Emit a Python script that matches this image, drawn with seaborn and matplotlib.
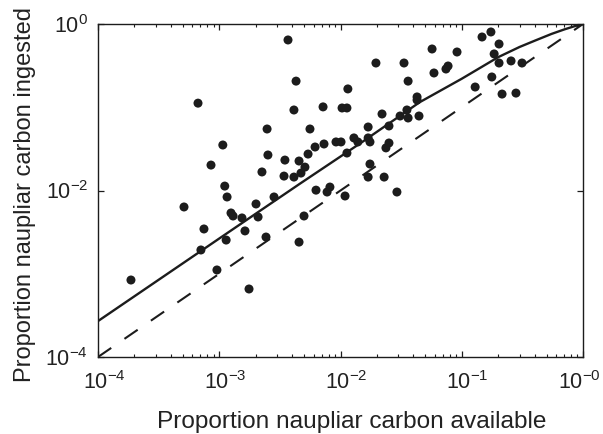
import matplotlib
matplotlib.use("Agg")
import matplotlib.pyplot as plt
import matplotlib.transforms as mtransforms
import seaborn as sns
import pandas as pd
from matplotlib.ticker import LogLocator, NullLocator, FixedLocator, FixedFormatter

# ---- data ----
avail = [3.69e-3, 4.30e-3, 6.68e-4, 4.13e-3, 7.18e-3, 1.03e-2, 1.13e-2, 1.15e-2,
         2.48e-3, 5.60e-3, 1.07e-3, 2.52e-3, 8.55e-4, 3.48e-3, 4.55e-3, 5.40e-3,
         6.17e-3, 7.31e-3, 9.18e-3, 1.01e-2, 1.13e-2, 2.25e-3, 5.09e-3, 4.72e-3,
         4.13e-3, 3.42e-3, 1.11e-3, 1.16e-3, 2.83e-3, 6.28e-3, 7.75e-3, 8.18e-3,
         1.09e-2, 5.12e-4, 7.48e-4, 7.06e-4, 1.25e-3, 1.30e-3, 1.14e-3, 1.54e-3,
         1.63e-3, 2.01e-3, 2.09e-3, 2.43e-3, 9.57e-4, 1.76e-3, 1.87e-4, 5.00e-3,
         4.55e-3, 1.69e-2, 2.51e-2, 1.29e-2, 1.39e-2, 1.69e-2, 1.75e-2, 2.51e-2,
         2.37e-2, 1.75e-2, 1.69e-2, 2.29e-2, 2.92e-2, 0.174, 0.147, 0.203,
         0.185, 5.69e-2, 9.14e-2, 1.96e-2, 3.34e-2, 7.71e-2, 7.41e-2, 5.90e-2,
         3.61e-2, 0.203, 0.255, 0.314, 0.177, 0.129, 0.215, 0.280,
         4.28e-2, 4.28e-2, 3.53e-2, 3.61e-2, 3.10e-2, 4.44e-2, 2.20e-2]
ingested = [0.643, 0.206, 0.112, 0.0927, 0.101, 0.098, 0.098, 0.166,
            0.0548, 0.0548, 0.0352, 0.0267, 0.0202, 0.0232, 0.0226, 0.0274,
            0.0333, 0.0362, 0.0383, 0.0383, 0.0282, 0.0167, 0.0191, 0.0162,
            0.0145, 0.0149, 0.0113, 0.00836, 0.00836, 0.0101, 0.00959, 0.0110,
            0.00859, 0.00634, 0.00345, 0.00193, 0.00537, 0.00494, 0.00254, 0.00468,
            0.00327, 0.00689, 0.00481, 0.00276, 0.00111, 0.000656, 0.000841, 0.00494,
            0.00240, 0.0579, 0.0596, 0.0428, 0.0383, 0.0428, 0.0383, 0.0372,
            0.0325, 0.0208, 0.0145, 0.0145, 0.00959, 0.802, 0.698, 0.575,
            0.437, 0.501, 0.461, 0.340, 0.340, 0.313, 0.288, 0.258,
            0.206, 0.340, 0.360, 0.340, 0.231, 0.175, 0.144, 0.148,
            0.133, 0.122, 0.0927, 0.0743, 0.0785, 0.0785, 0.0830]

# fitted model curve
curve_x = [1e-4, 1e-3, 4.6e-3, 1.5e-2, 4.5e-2, 0.1, 0.2, 0.3, 0.4, 0.55, 0.7, 0.85, 1.0]
curve_y = [2.7e-4, 2.65e-3, 1.2e-2, 3.8e-2, 0.115, 0.22, 0.40, 0.53, 0.63, 0.76, 0.86, 0.94, 1.0]

# 1:1 line
one_x = [1e-4, 1.0]
one_y = [1e-4, 1.0]

xtick_vals = [1e-4, 1e-3, 1e-2, 1e-1, 1e0]
xtick_labels = [r"$\mathregular{10^{-4}}$", r"$\mathregular{10^{-3}}$", r"$\mathregular{10^{-2}}$",
                r"$\mathregular{10^{-1}}$", r"$\mathregular{10^{-0}}$"]
ytick_vals = [1e-4, 1e-2, 1e0]
ytick_labels = [r"$\mathregular{10^{-4}}$", r"$\mathregular{10^{-2}}$", r"$\mathregular{10^{0}}$"]

# ---- style ----
sns.set_style("ticks")
plt.rcParams["font.family"] = ["Liberation Sans", "DejaVu Sans"]
plt.rcParams["mathtext.fontset"] = "custom"
plt.rcParams["mathtext.rm"] = "Liberation Sans"
plt.rcParams["mathtext.it"] = "Liberation Sans:italic"
plt.rcParams["mathtext.bf"] = "Liberation Sans:bold"

W, H = 603, 434
fig = plt.figure(figsize=(W / 100, H / 100), dpi=100)
ax = fig.add_axes([98 / W, 1 - 357 / H, 485 / W, 333 / H])
ax.set_xscale("log")
ax.set_yscale("log")

ink = "#1c1c1c"
txt = "#222222"
df = pd.DataFrame({"avail": avail, "ingested": ingested})
sns.scatterplot(data=df, x="avail", y="ingested", ax=ax, s=42, color=ink,
                edgecolor="none", linewidth=0, zorder=3, legend=False)
sns.lineplot(x=curve_x, y=curve_y, ax=ax, color=ink, lw=1.7, estimator=None,
             sort=False, zorder=4)
sns.lineplot(x=one_x, y=one_y, ax=ax, color=ink, lw=1.5, estimator=None,
             sort=False, linestyle=(0, (7.7, 7.7)), zorder=4)

ax.set_xlim(1e-4, 1)
ax.set_ylim(1e-4, 1)

ax.xaxis.set_major_locator(FixedLocator(xtick_vals))
ax.xaxis.set_major_formatter(FixedFormatter(xtick_labels))
ax.xaxis.set_minor_locator(LogLocator(base=10, subs=[2, 3, 4, 5, 6, 7, 8, 9]))
ax.yaxis.set_major_locator(FixedLocator(ytick_vals))
ax.yaxis.set_major_formatter(FixedFormatter(ytick_labels))
ax.yaxis.set_minor_locator(NullLocator())

ax.tick_params(which="both", direction="in", top=True, right=True, color=ink,
               labelcolor=txt, labelsize=15.5)
ax.tick_params(which="major", length=4, width=0.9)
ax.tick_params(which="minor", length=2.2, width=0.8)
ax.tick_params(axis="x", which="major", pad=10)
ax.tick_params(axis="y", which="major", pad=7)

# the "10" of each x label sits on its tick; exponent hangs to the right
ticks = ax.xaxis.get_major_ticks()
for i, t in enumerate(ticks):
    if i < len(ticks) - 1:
        off = mtransforms.ScaledTranslation(6 / 100, 0, fig.dpi_scale_trans)
        t.label1.set_transform(t.label1.get_transform() + off)
    else:
        off = mtransforms.ScaledTranslation(18 / 100, 0, fig.dpi_scale_trans)
        t.label1.set_transform(t.label1.get_transform() + off)
        t.label1.set_horizontalalignment("right")

for sp in ax.spines.values():
    sp.set_visible(True)
    sp.set_color(ink)
    sp.set_linewidth(1.0)

ax.set_xlabel("Proportion naupliar carbon available", fontsize=17.6, color=txt)
ax.set_ylabel("Proportion naupliar carbon ingested", fontsize=17.0, color=txt)
ax.xaxis.set_label_coords(0.524, -0.162)
ax.yaxis.set_label_coords(-0.128, 0.487)

fig.savefig("out.png", dpi=100)
